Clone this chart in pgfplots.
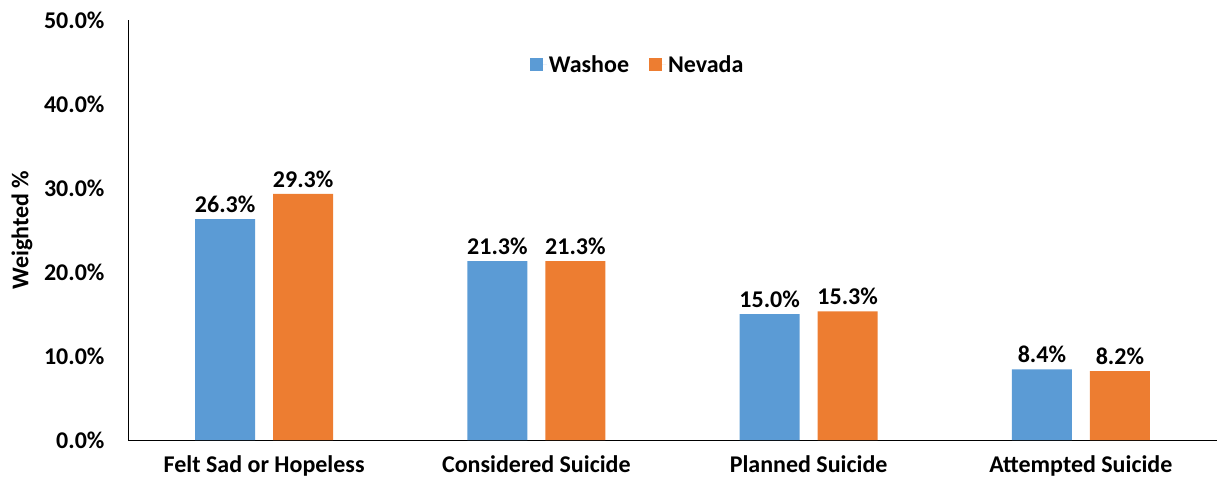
\documentclass[border=0pt]{standalone}
\usepackage{pgfplots}
\pgfplotsset{compat=1.18}
\usepackage{fontspec}
\setmainfont{Carlito}
\definecolor{washoe}{HTML}{5B9BD5}
\definecolor{nevada}{HTML}{ED7D31}
\newcommand{\lf}{\bfseries\fontsize{24bp}{28bp}\selectfont}
\begin{document}
\begin{tikzpicture}[x=1bp,y=1bp]
\useasboundingbox (0,0) rectangle (1217,-485);
\begin{axis}[
  at={(128bp,-440bp)}, anchor=south west,
  scale only axis, width=1089bp, height=420bp,
  xmin=-0.5, xmax=3.5, ymin=0, ymax=50,
  axis x line=bottom, axis y line=left,
  axis line style={-, black, line width=1pt},
  xtick={0,1,2,3},
  xticklabels={Felt Sad or Hopeless,Considered Suicide,Planned Suicide,Attempted Suicide},
  ytick={0,10,20,30,40,50},
  yticklabels={0.0\%,10.0\%,20.0\%,30.0\%,40.0\%,50.0\%},
  major tick length=0pt,
  ticklabel style={font=\lf},
  yticklabel style={xshift=-20bp},
  xticklabel style={yshift=-12bp},
  ylabel={Weighted \%},
  ylabel style={font=\lf, at={(axis description cs:-0.0973,0.5)}, anchor=center},
  ybar=18bp, bar width=60bp,
  /pgf/number format/assume math mode=true,
  nodes near coords={\pgfmathprintnumber[fixed,fixed zerofill,precision=1]{\pgfplotspointmeta}\%},
  nodes near coords style={font=\lf, text=black, yshift=3bp},
  legend columns=2,
  legend style={draw=none, fill=none, at={(axis description cs:0.468,0.893)}, anchor=center, font=\lf,
    /tikz/every even column/.append style={column sep=18bp}},
  legend image code/.code={\fill[#1] (0bp,-6.5bp) rectangle (13bp,6.5bp); \path (13bp,0bp) -- (17bp,0bp);},
]
\addplot[fill=washoe, draw=none] coordinates {(0,26.3) (1,21.3) (2,15.0) (3,8.4)};
\addplot[fill=nevada, draw=none] coordinates {(0,29.3) (1,21.3) (2,15.3) (3,8.2)};
\legend{Washoe,Nevada}
\end{axis}
\end{tikzpicture}
\end{document}
